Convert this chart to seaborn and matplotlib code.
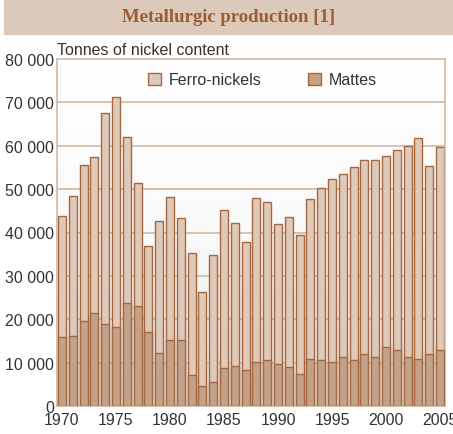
import seaborn as sns
import matplotlib.pyplot as plt
import matplotlib.patches as mpatches
from matplotlib.colors import LinearSegmentedColormap
import pandas as pd
import numpy as np

# -------------------------------
# Data (tonnes of nickel content)
# -------------------------------
years = list(range(1970, 2006))
mattes = [15900, 16100, 19600, 21400, 18800, 18200, 23700, 23000, 17000, 12200,
          15300, 15200, 7100, 4500, 5500, 8700, 9200, 8200, 10200, 10500,
          9600, 8900, 7300, 10800, 10500, 10100, 11200, 10500, 11900, 11200,
          13500, 13000, 11200, 10800, 12100, 12800]
ferro_nickels = [28000, 32400, 36000, 36000, 48800, 53100, 38300, 28400, 20000, 30500,
                 32900, 28200, 28100, 21700, 29200, 36400, 33100, 29600, 37800, 36500,
                 32400, 34700, 32200, 37000, 39800, 42300, 42300, 44500, 44700, 45500,
                 44200, 46100, 48800, 50900, 43300, 46900]
y_ticks = [0, 10000, 20000, 30000, 40000, 50000, 60000, 70000, 80000]
x_ticks = [1970, 1975, 1980, 1985, 1990, 1995, 2000, 2005]

df = pd.DataFrame({"Year": years, "Mattes": mattes, "Ferro": ferro_nickels})
df["Total"] = df["Mattes"] + df["Ferro"]

# -------------------------------
# Style
# -------------------------------
ferro_col = "#dfcab9"
mattes_col = "#c4a287"
edge_col = "#a4673f"
grid_col = "#d2b8a4"
text_col = "#333333"

sns.set_style("white")
plt.rcParams["font.family"] = ["Liberation Sans", "DejaVu Sans"]

fig = plt.figure(figsize=(4.53, 4.35), dpi=100)
ax = fig.add_axes([57 / 453, 28 / 435, 388 / 453, 347 / 435])

# title band
fig.patches.append(mpatches.Rectangle((4 / 453, 400 / 435), 449 / 453, 35 / 435,
                                      transform=fig.transFigure, color="#dcc9b9",
                                      zorder=0))
fig.text(0.505, 417 / 435, "Metallurgic production [1]", ha="center", va="center",
         fontsize=13.5, fontweight="bold", color="#9b5d36",
         family=["Liberation Serif", "DejaVu Serif"])

# gradient background
xlim = (1969.54, 2005.46)
ylim = (0, 80000)
grad_cmap = LinearSegmentedColormap.from_list("bg", ["#ffffff", "#fafafa", "#e6e6e8"])
ax.imshow(np.linspace(0, 1, 256).reshape(-1, 1), cmap=grad_cmap, aspect="auto",
          extent=(xlim[0], xlim[1], ylim[0], ylim[1]), origin="upper", zorder=0)

for v in y_ticks[1:-1]:
    ax.axhline(v, color=grid_col, linewidth=1.2, zorder=1)

sns.barplot(data=df, x="Year", y="Total", native_scale=True, width=0.75,
            color=ferro_col, edgecolor=edge_col, linewidth=1.0, saturation=1,
            ax=ax, zorder=2)
sns.barplot(data=df, x="Year", y="Mattes", native_scale=True, width=0.75,
            color=mattes_col, edgecolor=edge_col, linewidth=1.0, saturation=1,
            ax=ax, zorder=3)

ax.set_xlim(*xlim)
ax.set_ylim(*ylim)
ax.set_xticks(x_ticks)
ax.set_xticklabels([str(x) for x in x_ticks])
ax.set_yticks(y_ticks)
ax.set_yticklabels([f"{v:,}".replace(",", " ") for v in y_ticks])
ax.tick_params(axis="y", length=0, labelsize=11.5, colors=text_col, pad=2)
ax.tick_params(axis="x", length=0, labelsize=11.5, colors=text_col, pad=4)
ax.set_xlabel("")
ax.set_ylabel("")

for side in ["left", "right", "top", "bottom"]:
    ax.spines[side].set_color(grid_col)
    ax.spines[side].set_linewidth(1.2)

ax.text(0.0, 1.005, "Tonnes of nickel content", transform=ax.transAxes,
        ha="left", va="bottom", fontsize=11.5, color=text_col)

handles = [mpatches.Patch(facecolor=ferro_col, edgecolor=edge_col, label="Ferro-nickels"),
           mpatches.Patch(facecolor=mattes_col, edgecolor=edge_col, label="Mattes")]
ax.legend(handles=handles, loc="center", bbox_to_anchor=(0.53, 0.94), ncol=2,
          frameon=False, fontsize=11.5, handlelength=0.8, handleheight=0.8,
          columnspacing=2.9, handletextpad=0.5, labelcolor=text_col)

plt.savefig("out.png", dpi=100)
plt.close()
